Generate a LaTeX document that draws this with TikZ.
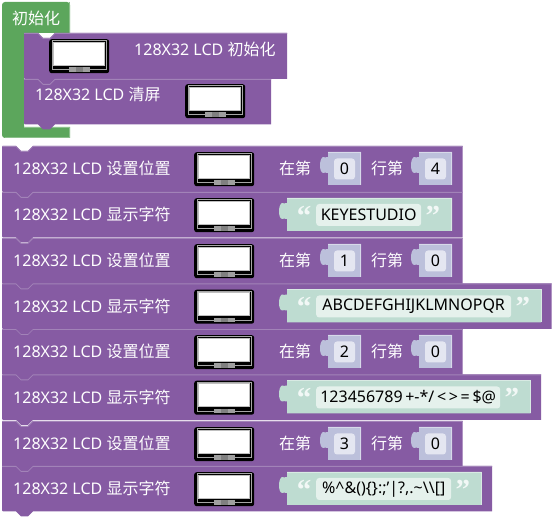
\documentclass[tikz,border=0pt]{standalone}
\usepackage{fontspec}
\setmainfont{Noto Sans}
\newfontfamily\cjk{Noto Sans CJK SC}
\newfontfamily\quotefont{Liberation Serif}
\usetikzlibrary{positioning}
\definecolor{blockpurple}{HTML}{865BA3}
\definecolor{blockedge}{HTML}{A283B8}
\definecolor{blockgreen}{HTML}{5CA65C}
\definecolor{greenedge}{HTML}{8CC08C}
\definecolor{numshadow}{HTML}{BCC0DB}
\definecolor{numfield}{HTML}{E4E6F1}
\definecolor{strshadow}{HTML}{BEDCD1}
\definecolor{strfield}{HTML}{E5F1EC}
\tikzset{
  blocktext/.style={anchor=west,text=white,inner sep=0pt,font=\fontsize{16}{16}\selectfont},
  numbox/.style={fill=numfield,rounded corners=3pt,minimum width=21pt,minimum height=21pt,inner sep=0pt,text=black,font=\fontsize{16}{16}\selectfont},
  strbox/.style={anchor=west,fill=strfield,rounded corners=3pt,minimum height=22pt,inner sep=0pt,text=black,font=\fontsize{16}{16}\selectfont},
  quotetext/.style={anchor=north,text=white!80!strshadow,inner sep=0pt,font=\fontsize{29}{29}\quotefont\bfseries},
  lcdframe/.style={fill=black,rounded corners=2.5pt,minimum width=60pt,minimum height=34pt,inner sep=0pt},
}
% stacked block: x0, top, x1, bottom
\newcommand{\stackblock}[4]{
  \fill[blockpurple] (#1+1,#2) -- (#1+14,#2) -- (#1+19,#2+5) -- (#1+26,#2+5) -- (#1+31,#2) -- (#3,#2)
    -- (#3,#4) -- (#1+31,#4) -- (#1+26,#4+5) -- (#1+19,#4+5) -- (#1+14,#4) -- (#1+1,#4) -- (#1,#4-1) -- (#1,#2+1) -- cycle;
  \draw[blockedge,line width=.8pt] (#1,#2+.4) -- (#1+14,#2+.4) -- (#1+19,#2+5.4) -- (#1+26,#2+5.4) -- (#1+31,#2+.4) -- (#3,#2+.4);
}
% screen icon: name, left, top
\newcommand{\lcdicon}[3]{
  \node[lcdframe,anchor=north west] (#1) at (#2,#3) {};
  \draw[gray!70,line width=.8pt] (#2+3,#3+1.8) rectangle (#2+57,#3+30.5);
  \fill[gray!50] (#2+4,#3+3) rectangle (#2+56,#3+27);
  \fill[white] (#2+5,#3+4) rectangle (#2+55,#3+26);
  \fill[gray!75] (#2+20,#3+28.5) rectangle (#2+41,#3+33);
  \fill[gray] (#2+27,#3+28.5) rectangle (#2+34,#3+33);
}
% tabbed input: left, top, right, bottom, fill colour
\newcommand{\inputblock}[5]{
  \fill[#5] (#1,#2) -- (#3,#2) -- (#3,#4) -- (#1,#4) -- (#1,#2+21)
    .. controls (#1-3,#2+19) and (#1-3,#2+22) .. (#1-5,#2+21)
    .. controls (#1-9,#2+20) and (#1-9,#2+7) .. (#1-5,#2+5)
    .. controls (#1-3,#2+4) and (#1-3,#2+7) .. (#1,#2+5) -- cycle;
  \draw[white!40!#5,line width=.6pt] (#1,#2+.3) -- (#3-.3,#2+.3) -- (#3-.3,#4);
}
\begin{document}
\begin{tikzpicture}[x=1pt,y=-1pt]
  \useasboundingbox (0,0) rectangle (552,518);
  % setup hat
  \fill[blockgreen] (70,33) -- (24,33) -- (24,127) -- (70,127) -- (70,138) [rounded corners=3pt] -- (2,138) -- (2,2) -- (70,2) [sharp corners] -- cycle;
  \draw[greenedge,line width=.7pt] (69.7,2) -- (69.7,33) (24,127.3) -- (69.7,127.3) -- (69.7,137.7) -- (5,137.7);
  \node[blocktext] (hatlabel) at (12,18.5) {\cjk 初始化};
  \stackblock{24}{33}{287}{79}
  \stackblock{24}{79}{271}{124.5}
  \lcdicon{lcdinit}{49}{39}
  \node[blocktext] (initlabel) at (134,49.5) {128X32 LCD {\cjk 初始化}};
  \node[blocktext] (clearlabel) at (35,94.5) {128X32 LCD {\cjk 清屏}};
  \lcdicon{lcdclear}{185}{84}
  % position and print rows
  \foreach \i/\y/\row/\col in {1/146/0/4,3/238/1/0,5/329/2/0,7/421/3/0}{
    \stackblock{2}{\y}{462.5}{\y+46}
    \node[blocktext] (lbl\i) at (13,\y+22.5) {128X32 LCD {\cjk 设置位置}};
    \lcdicon{lcd\i}{194}{\y+6}
    \node[blocktext] (at\i) at (279,\y+22.5) {\cjk 在第};
    \inputblock{328}{\y+6}{361}{\y+39}{numshadow}
    \node[numbox] (row\i) at (344.5,\y+23) {\row};
    \node[blocktext] (of\i) at (371,\y+22.5) {\cjk 行第};
    \inputblock{419}{\y+6}{452}{\y+39}{numshadow}
    \node[numbox] (col\i) at (435.5,\y+23) {\col};
  }
  \foreach \i/\y/\w/\f/\txt in {2/192/462.5/105/KEYESTUDIO,4/283.5/551.7/195/ABCDEFGHIJKLMNOPQR,
      6/374.5/541/184/{123456789\,+-*/\,<\,>\,=\,\$@},8/466/492/135/{\%\^{}\&()\{\}:;\symbol{39}|?,.\textasciitilde\textbackslash\textbackslash[]}}{
    \stackblock{2}{\y}{\w}{\y+45.5}
    \node[blocktext] (lbl\i) at (13,\y+22.5) {128X32 LCD {\cjk 显示字符}};
    \lcdicon{lcd\i}{194}{\y+6}
    \inputblock{287}{\y+6}{\w-10.5}{\y+39}{strshadow}
    \node[strbox,minimum width=\f pt] (txt\i) at (316,\y+23) {\txt};
    \node[quotetext] (open\i) at (304,\y+14) {“};
    \node[quotetext,xshift=11.5pt] (close\i) at (txt\i.east |- 0,\y+14) {”};
  }
\end{tikzpicture}
\end{document}
